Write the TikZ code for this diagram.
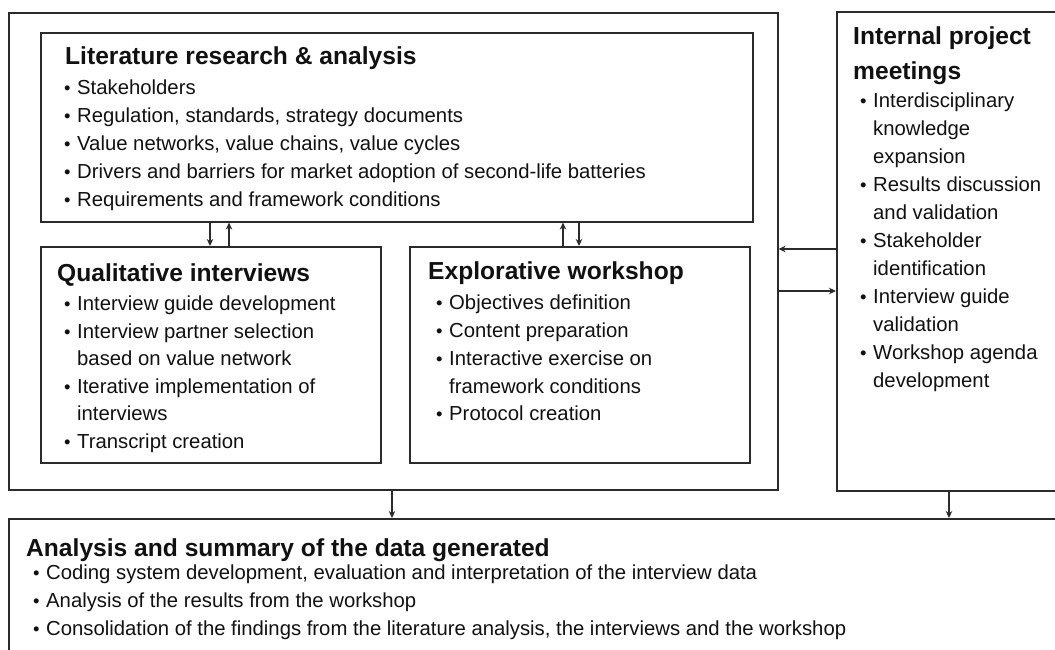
\documentclass[tikz,border=0pt]{standalone}
\usepackage{fontspec}
\setmainfont{Liberation Sans}
\usetikzlibrary{arrows.meta}
\definecolor{linec}{HTML}{2B2B2B}
\definecolor{textc}{HTML}{111111}
% small list dot followed by a fixed gap
\newcommand\bul{\makebox[13pt][l]{\fontsize{18.5}{16}\selectfont\textbullet}}
\tikzset{
  frame/.style={draw=linec, line width=1.6pt, anchor=north west, inner sep=0pt},
  heading/.style={anchor=base west, inner sep=0pt, text=textc,
    font=\fontsize{24.6}{28}\selectfont\bfseries},
  item/.style={anchor=base west, inner sep=0pt, text=textc,
    font=\fontsize{20.3}{24}\selectfont},
  link/.style={draw=linec, line width=1.3pt, -{Stealth[length=7pt,width=6.5pt]}}
}
\begin{document}
\begin{tikzpicture}[x=1pt,y=-1pt]
\useasboundingbox (0,0) rectangle (1055,649);
\fill[white] (0,0) rectangle (1055,649);
\clip (0,0) rectangle (1055,649);

% frames
\node[frame, minimum width=769pt, minimum height=477pt] (outer) at (8,12) {};
\node[frame, minimum width=712pt, minimum height=189pt] (lit) at (40,32) {};
\node[frame, minimum width=340pt, minimum height=216pt] (qual) at (40,246) {};
\node[frame, minimum width=340pt, minimum height=216pt] (expl) at (409,246) {};
\node[frame, minimum width=240pt, minimum height=479pt] (int) at (836,11) {};
\node[frame, minimum width=1070pt, minimum height=160pt] (sum) at (8,518) {};

% literature research
\node[heading] (lit-h) at (65,64) {Literature research \& analysis};
\node[item] (lit-1) at (64,94)  {\bul Stakeholders};
\node[item] (lit-2) at (64,122) {\bul Regulation, standards, strategy documents};
\node[item] (lit-3) at (64,150) {\bul Value networks, value chains, value cycles};
\node[item] (lit-4) at (64,178) {\bul Drivers and barriers for market adoption of second-life batteries};
\node[item] (lit-5) at (64,206) {\bul Requirements and framework conditions};

% qualitative interviews
\node[heading] (qual-h) at (57,281) {Qualitative interviews};
\node[item] (qual-1) at (64,310) {\bul Interview guide development};
\node[item] (qual-2) at (64,338) {\bul Interview partner selection};
\node[item] (qual-2b) at (77,365) {based on value network};
\node[item] (qual-3) at (64,393) {\bul Iterative implementation of};
\node[item] (qual-3b) at (77,420) {interviews};
\node[item] (qual-4) at (64,448) {\bul Transcript creation};

% explorative workshop
\node[heading] (expl-h) at (428,279) {Explorative workshop};
\node[item] (expl-1) at (436,309) {\bul Objectives definition};
\node[item] (expl-2) at (436,337) {\bul Content preparation};
\node[item] (expl-3) at (436,365) {\bul Interactive exercise on};
\node[item] (expl-3b) at (449,393) {framework conditions};
\node[item] (expl-4) at (436,420) {\bul Protocol creation};

% internal project meetings
\node[heading] (int-h1) at (853,44) {Internal project};
\node[heading] (int-h2) at (853,79) {meetings};
\node[item] (int-1)  at (860,107) {\bul Interdisciplinary};
\node[item] (int-1b) at (873,135) {knowledge};
\node[item] (int-1c) at (873,163) {expansion};
\node[item] (int-2)  at (860,191) {\bul Results discussion};
\node[item] (int-2b) at (873,219) {and validation};
\node[item] (int-3)  at (860,247) {\bul Stakeholder};
\node[item] (int-3b) at (873,275) {identification};
\node[item] (int-4)  at (860,303) {\bul Interview guide};
\node[item] (int-4b) at (873,331) {validation};
\node[item] (int-5)  at (860,359) {\bul Workshop agenda};
\node[item] (int-5b) at (873,387) {development};

% analysis and summary
\node[heading] (sum-h) at (26,556) {Analysis and summary of the data generated};
\node[item] (sum-1) at (33,579) {\bul Coding system development, evaluation and interpretation of the interview data};
\node[item] (sum-2) at (33,607) {\bul Analysis of the results from the workshop};
\node[item] (sum-3) at (33,635) {\bul Consolidation of the findings from the literature analysis, the interviews and the workshop};

% connectors
\draw[link] (210,0 |- lit.south) -- (210,0 |- qual.north);
\draw[link] (229,0 |- qual.north) -- (229,0 |- lit.south);
\draw[link] (563,0 |- expl.north) -- (563,0 |- lit.south);
\draw[link] (579,0 |- lit.south) -- (579,0 |- expl.north);
\draw[link] (int.west |- 0,249) -- (outer.east |- 0,249);
\draw[link] (outer.east |- 0,291) -- (int.west |- 0,291);
\draw[link] (392,0 |- outer.south) -- (392,0 |- sum.north);
\draw[link] (949,0 |- int.south) -- (949,0 |- sum.north);
\end{tikzpicture}
\end{document}
